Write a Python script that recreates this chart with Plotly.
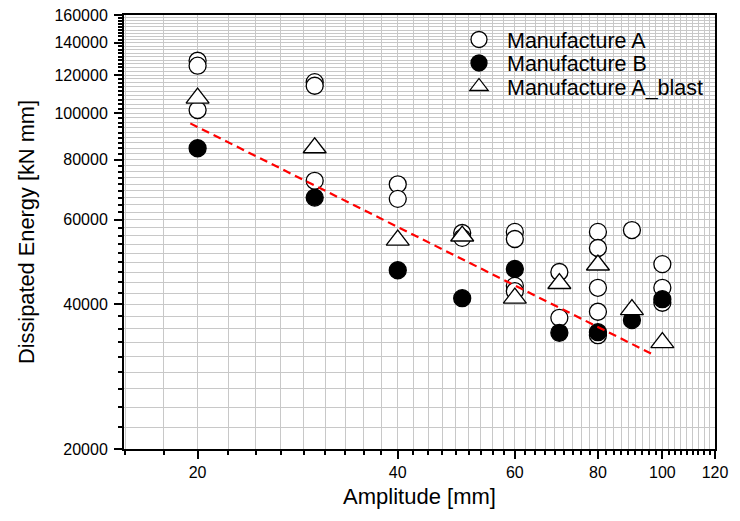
import math
import plotly.graph_objects as go

# ---- data ----
a_x = [20, 20, 20, 30, 30, 30, 40, 40, 50, 50, 60, 60, 60, 60, 70, 70,
       80, 80, 80, 80, 80, 90, 100, 100, 100]
a_y = [128500, 125500, 101500, 116000, 114000, 72300, 71100, 66300, 56300, 55000,
       56600, 54700, 43700, 42600, 46700, 37500,
       56600, 52400, 43300, 38600, 34500, 57100, 48500, 43300, 40300]

b_x = [20, 30, 40, 50, 60, 70, 80, 90, 100]
b_y = [84500, 66700, 47100, 41200, 47400, 34900, 35000, 37100, 41000]

blast_x = [20, 30, 40, 50, 60, 70, 80, 90, 100]
blast_y = [107400, 84700, 54400, 55500, 41200, 44200, 48300, 39000, 33300]

fit_x = [19.5, 96.6]
fit_y = [95200, 31500]

x_ticks = [20, 40, 60, 80, 100, 120]
y_ticks = [20000, 40000, 60000, 80000, 100000, 120000, 140000, 160000]
x_range = [15.5, 120]
y_range = [20000, 160000]

x_minor = [20 / 9 * k for k in range(7, 55) if k % 9 != 0]
y_minor = [20000 / 9 * k for k in range(9, 73) if k % 9 != 0]

FONT = "Liberation Sans, Arial, sans-serif"
GRID = "#c8c8c8"

fig = go.Figure()
fig.add_trace(go.Scatter(
    x=a_x, y=a_y, mode="markers", name="Manufacture A", legend="legend",
    marker=dict(symbol="circle", size=17, color="white",
                line=dict(color="black", width=1.3))))
fig.add_trace(go.Scatter(
    x=b_x, y=b_y, mode="markers", name="Manufacture B", legend="legend2",
    marker=dict(symbol="circle", size=17, color="black",
                line=dict(color="black", width=1.3))))
fig.add_trace(go.Scatter(
    x=blast_x, y=blast_y, mode="markers", name="Manufacture A_blast", legend="legend3",
    marker=dict(symbol="triangle-up", size=20, color="white",
                line=dict(color="black", width=1.3))))
fig.add_trace(go.Scatter(
    x=fit_x, y=fit_y, mode="lines", showlegend=False,
    line=dict(color="red", width=2.2, dash="8px,5px")))

axis_common = dict(
    type="log", showline=True, linecolor="black", linewidth=2, mirror=True,
    ticks="outside", ticklen=8, tickwidth=1.5, tickcolor="black",
    showgrid=True, gridcolor=GRID, gridwidth=1, zeroline=False,
    tickfont=dict(family=FONT, size=16, color="black"),
    automargin=False,
)

fig.update_xaxes(
    **axis_common,
    ticklabelstandoff=0,
    range=[math.log10(v) for v in x_range],
    tickmode="array", tickvals=x_ticks, ticktext=[str(v) for v in x_ticks],
    minor=dict(tickmode="array", tickvals=x_minor, ticks="outside", ticklen=4,
               tickwidth=1.5, tickcolor="black", showgrid=True, gridcolor=GRID, gridwidth=1),
    title=dict(text="Amplitude [mm]", font=dict(family=FONT, size=22, color="black"), standoff=8),
)
fig.update_yaxes(
    **axis_common,
    ticklabelstandoff=3,
    range=[math.log10(v) for v in y_range],
    tickmode="array", tickvals=y_ticks, ticktext=[str(v) for v in y_ticks],
    minor=dict(tickmode="array", tickvals=y_minor, ticks="outside", ticklen=4,
               tickwidth=1.5, tickcolor="black", showgrid=True, gridcolor=GRID, gridwidth=1),
    title=dict(text="Dissipated Energy [kN mm]", font=dict(family=FONT, size=21.8, color="black"), standoff=14),
)

leg_common = dict(xanchor="left", yanchor="middle", bgcolor="rgba(0,0,0,0)",
                  borderwidth=0, itemwidth=46,
                  font=dict(family=FONT, size=21.5, color="black"))
PH = 434.0
def ypos(py):
    return 1 - (py - 15) / PH
lx = (451 - 124) / 591.0

fig.update_layout(
    width=740, height=521,
    margin=dict(l=124, r=25, t=15, b=72, autoexpand=False),
    plot_bgcolor="white", paper_bgcolor="white",
    font=dict(family=FONT, color="black"),
    legend=dict(x=lx, y=ypos(39.5), **leg_common),
    legend2=dict(x=lx, y=ypos(63), **leg_common),
    legend3=dict(x=lx, y=ypos(86.5), **leg_common),
)

fig.write_html("out.html",
               config={"displayModeBar": False},
               post_script="document.body.style.margin='0';document.body.style.overflow='hidden';")
